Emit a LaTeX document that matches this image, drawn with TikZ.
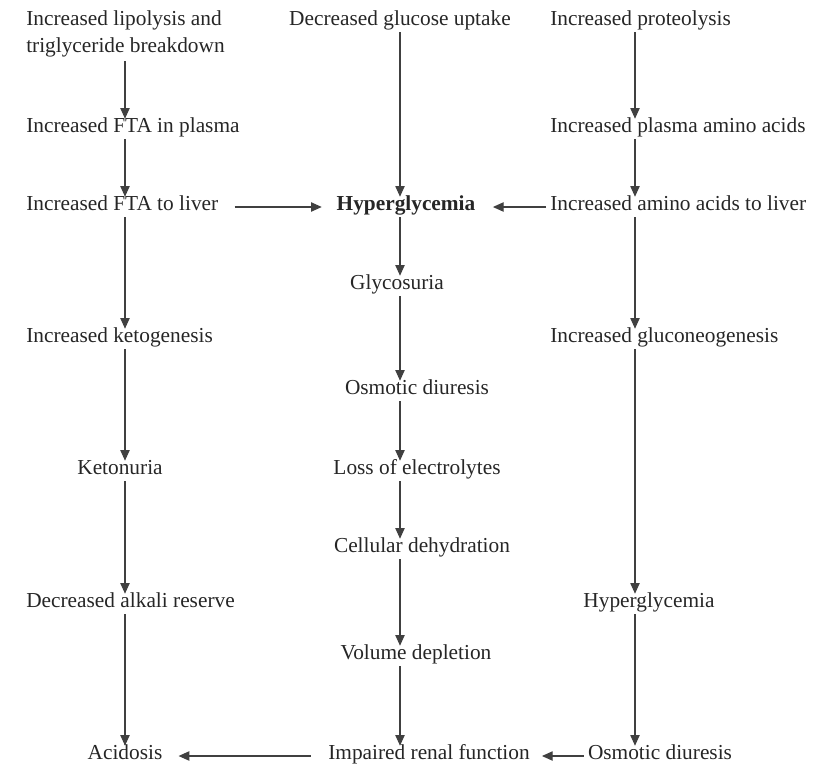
\documentclass[tikz,border=0pt]{standalone}
\usepackage{fontspec}
\setmainfont{Liberation Serif}
\usetikzlibrary{arrows.meta}

\begin{document}
\begin{tikzpicture}[x=0.75pt, y=-0.75pt,
    lbl/.style={inner sep=3pt, text=black!85, font=\fontsize{16}{20}\selectfont,
                text height=0.68em, text depth=0.22em, yshift=-3pt},
    lft/.style={lbl, anchor=west, align=left},
    two/.style={inner sep=3pt, text=black!85, font=\fontsize{16}{20}\selectfont,
                anchor=west, align=left, yshift=-2pt},
    arr/.style={draw=black!75, line width=0.8pt, -{Triangle[length=8pt, width=7pt]}}]
  \useasboundingbox (0,0) rectangle (825,768);
  \coordinate (cL) at (125,0);
  \coordinate (cM) at (400,0);
  \coordinate (cR) at (635,0);
  % left column
  \node[two] (lip) at (22,31.5) {Increased lipolysis and\\triglyceride breakdown};
  \node[lft] (pla) at (22,125) {Increased FTA in plasma};
  \node[lft] (ftl) at (22,203) {Increased FTA to liver};
  \node[lft] (ket) at (22,335) {Increased ketogenesis};
  \node[lbl] (ktu) at (120,467) {Ketonuria};
  \node[lft] (alk) at (22,600) {Decreased alkali reserve};
  \node[lbl] (aci) at (125,752) {Acidosis};
  % middle column
  \node[lbl] (glu) at (400,18) {Decreased glucose uptake};
  \node[lbl, font=\fontsize{16}{20}\selectfont\bfseries] (hyp) at (406,203) {Hyperglycemia};
  \node[lbl] (gly) at (397,282) {Glycosuria};
  \node[lbl] (osm) at (417,387) {Osmotic diuresis};
  \node[lbl] (los) at (417,467) {Loss of electrolytes};
  \node[lbl] (cel) at (422,545) {Cellular dehydration};
  \node[lbl] (vol) at (416,652) {Volume depletion};
  \node[lbl] (ren) at (429,752) {Impaired renal function};
  % right column
  \node[lft] (pro) at (546,18) {Increased proteolysis};
  \node[lft] (paa) at (546,125) {Increased plasma amino acids};
  \node[lft] (aal) at (546,203) {Increased amino acids to liver};
  \node[lft] (gng) at (546,335) {Increased gluconeogenesis};
  \node[lbl] (hyr) at (649,600) {Hyperglycemia};
  \node[lbl] (osr) at (660,752) {Osmotic diuresis};

  \draw[arr] (lip.south -| cL) -- (pla.north -| cL);
  \draw[arr] (pla.south -| cL) -- (ftl.north -| cL);
  \draw[arr] (ftl.south -| cL) -- (ket.north -| cL);
  \draw[arr] (ket.south -| cL) -- (ktu.north -| cL);
  \draw[arr] (ktu.south -| cL) -- (alk.north -| cL);
  \draw[arr] (alk.south -| cL) -- (aci.north -| cL);

  \draw[arr] (glu.south -| cM) -- (hyp.north -| cM);
  \draw[arr] (hyp.south -| cM) -- (gly.north -| cM);
  \draw[arr] (gly.south -| cM) -- (osm.north -| cM);
  \draw[arr] (osm.south -| cM) -- (los.north -| cM);
  \draw[arr] (los.south -| cM) -- (cel.north -| cM);
  \draw[arr] (cel.south -| cM) -- (vol.north -| cM);
  \draw[arr] (vol.south -| cM) -- (ren.north -| cM);

  \draw[arr] (pro.south -| cR) -- (paa.north -| cR);
  \draw[arr] (paa.south -| cR) -- (aal.north -| cR);
  \draw[arr] (aal.south -| cR) -- (gng.north -| cR);
  \draw[arr] (gng.south -| cR) -- (hyr.north -| cR);
  \draw[arr] (hyr.south -| cR) -- (osr.north -| cR);

  \draw[arr, shorten <=9pt, shorten >=8pt] (ftl) -- (hyp);
  \draw[arr, shorten >=10pt] (aal) -- (hyp);
  \draw[arr, shorten >=6pt] (osr) -- (ren);
  \draw[arr, shorten <=10pt, shorten >=9pt] (ren) -- (aci);
\end{tikzpicture}
\end{document}
